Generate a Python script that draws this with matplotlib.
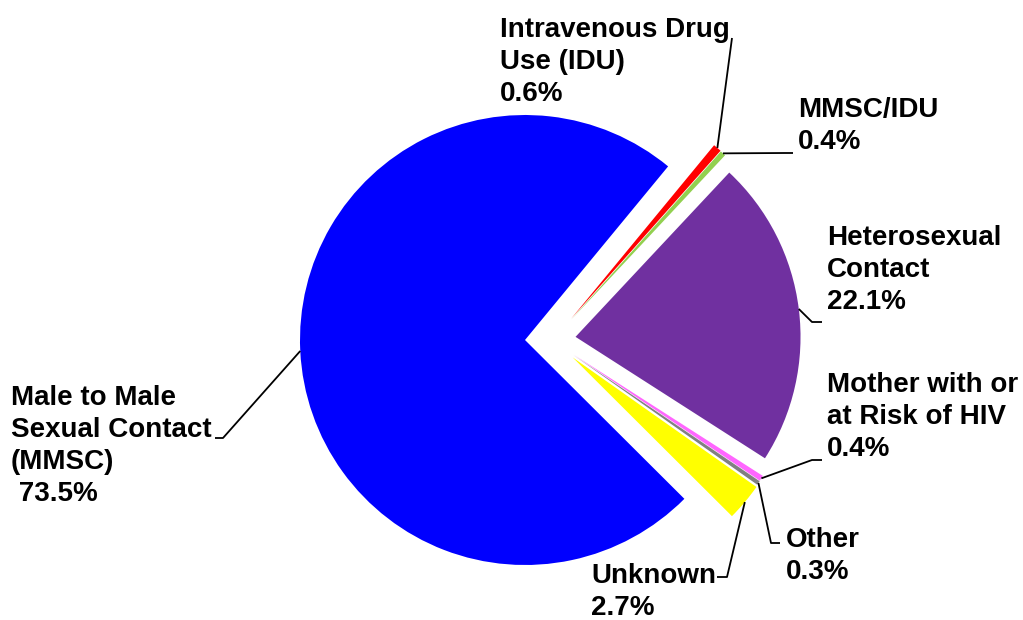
import numpy as np
import matplotlib.pyplot as plt

# data, clockwise from the top
categories = ["Intravenous Drug\nUse (IDU)", "MMSC/IDU", "Heterosexual\nContact",
              "Mother with or\nat Risk of HIV", "Other", "Unknown",
              "Male to Male\nSexual Contact\n(MMSC)\n"]
values = [0.6, 0.4, 22.1, 0.4, 0.3, 2.7, 73.5]
colors = ["#FF0000", "#92D050", "#7030A0", "#FF66FF", "#808080", "#FFFF00", "#0000FF"]
pulled = [True, True, True, True, True, True, False]

# figure is 1023x620 px, pie radius 225 px with its centre at (525, 340) px
W, H = 1023, 620
R = 225.0
CX, CY = 525.0, 340.0


def px(x, y):
    # pixel position (from top-left) -> data coords
    return ((x - CX) / R, (CY - y) / R)


fig = plt.figure(figsize=(W / 100, H / 100), dpi=100)
ax = fig.add_axes([0, 0, 1, 1])

wedges, _ = ax.pie(values, colors=colors, startangle=50.5, counterclock=False,
                   radius=1.0, center=(0, 0), wedgeprops=dict(linewidth=0))

# pull the small slices out (offset follows half the slice angle, like the original)
pull = 0.225
for w, p in zip(wedges, pulled):
    if p:
        mid = np.deg2rad((w.theta1 + w.theta2) / 2.0)
        w.set_center((pull * np.cos(mid / 2.0), pull * np.sin(mid / 2.0)))

# label boxes (left, cap top) and leader line bends, in pixels
label_pos = [(500, 17), (798, 97), (827, 225), (827, 372), (786, 527), (591, 563), (11, 385)]
bends = [[(732, 38)],
         [(785, 153), (793, 153)],
         [(812, 322), (822, 322)],
         [(812, 460), (822, 460)],
         [(771, 543), (780, 543)],
         [(727, 577), (717, 577)],
         [(223, 438), (215, 438)]]

for w, name, v, pos, bend in zip(wedges, categories, values, label_pos, bends):
    mid = np.deg2rad((w.theta1 + w.theta2) / 2.0)
    cx, cy = w.center
    tip = (cx + w.r * np.cos(mid), cy + w.r * np.sin(mid))
    pts = [tip] + [px(*b) for b in bend]
    ax.plot([p[0] for p in pts], [p[1] for p in pts], color="black", lw=1.3,
            solid_capstyle="butt")
    if name.endswith("\n"):
        txt = f"{name} {v}%"
    else:
        txt = f"{name}\n{v}%"
    ax.text(*px(*pos), txt, ha="left", va="top", fontsize=20, fontweight="bold",
            family="Liberation Sans", linespacing=1.3, color="black")

x0, y1 = px(0, 0)
x1, y0 = px(W, H)
ax.set_xlim(x0, x1)
ax.set_ylim(y0, y1)
ax.set_aspect("auto")
ax.axis("off")

plt.savefig("out.png", dpi=100, facecolor="white")
